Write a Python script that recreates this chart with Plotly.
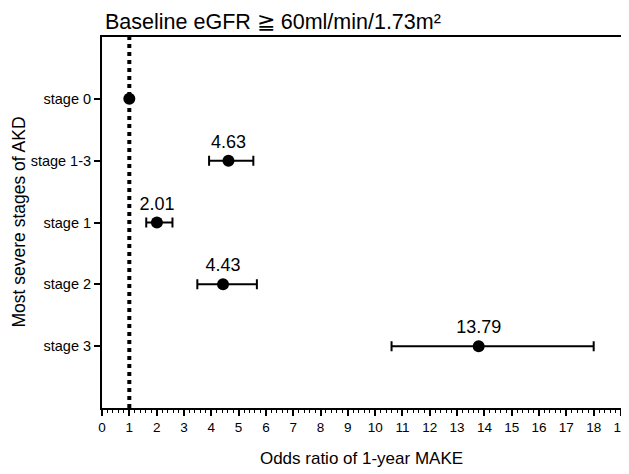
import plotly.graph_objects as go

# data
stages = ["stage 0", "stage 1-3", "stage 1", "stage 2", "stage 3"]
odds_ratio = [1.0, 4.63, 2.01, 4.43, 13.79]
ci_low = [1.0, 3.92, 1.62, 3.49, 10.6]
ci_high = [1.0, 5.54, 2.58, 5.67, 18.0]
labels = ["", "4.63", "2.01", "4.43", "13.79"]
x_ticks = list(range(0, 20))

err_plus = [h - v for h, v in zip(ci_high, odds_ratio)]
err_minus = [v - l for v, l in zip(odds_ratio, ci_low)]
ypos = list(range(len(stages)))

# page body has an 8px margin, so the figure is drawn 8px smaller
W, H = 621, 466

fig = go.Figure()

# reference line at OR = 1
fig.add_shape(type="line", x0=1, x1=1, xref="x", y0=0, y1=1, yref="paper",
              line=dict(color="black", width=4, dash="dot"))

fig.add_trace(go.Scatter(
    x=odds_ratio, y=ypos, mode="markers+text",
    text=labels, textposition="top center",
    textfont=dict(size=18, color="black"),
    marker=dict(size=12, color="black"),
    error_x=dict(type="data", symmetric=False, array=err_plus, arrayminus=err_minus,
                 color="black", thickness=2, width=5),
    showlegend=False,
))

# y axis title placed by hand
fig.add_annotation(text="Most severe stages of AKD", textangle=-90,
                   xref="paper", yref="paper", x=0, y=0.5, xshift=-84,
                   xanchor="center", yanchor="middle", showarrow=False,
                   font=dict(size=17.5, color="black"))

fig.update_layout(
    width=W, height=H,
    margin=dict(l=94, r=8, t=29, b=66),
    paper_bgcolor="white", plot_bgcolor="white",
    font=dict(family="Arial, Liberation Sans", color="black"),
    title=dict(text="Baseline eGFR ≧ 60ml/min/1.73m²",
               x=97 / W, xanchor="left", y=1 - 13 / H, yanchor="middle",
               font=dict(size=21.5, color="black")),
    xaxis=dict(
        range=[0, 19], tickvals=x_ticks, ticks="outside", ticklen=6, tickwidth=1.5,
        tickcolor="black", tickfont=dict(size=13.5), ticklabeloverflow="allow",
        minor=dict(dtick=0.2, ticks="outside", ticklen=3, tickcolor="black", tickwidth=1),
        showline=True, linecolor="black", linewidth=2, mirror=True,
        showgrid=False, zeroline=False, automargin=False,
        title=dict(text="Odds ratio of 1-year MAKE", font=dict(size=17), standoff=18),
    ),
    yaxis=dict(
        range=[5, -1], tickvals=ypos, ticktext=stages,
        ticks="outside", ticklen=6, tickwidth=1.5, tickcolor="black",
        tickfont=dict(size=14.5), automargin=False,
        showline=True, linecolor="black", linewidth=2, mirror=True,
        showgrid=False, zeroline=False,
    ),
)

fig.write_html("out.html")
